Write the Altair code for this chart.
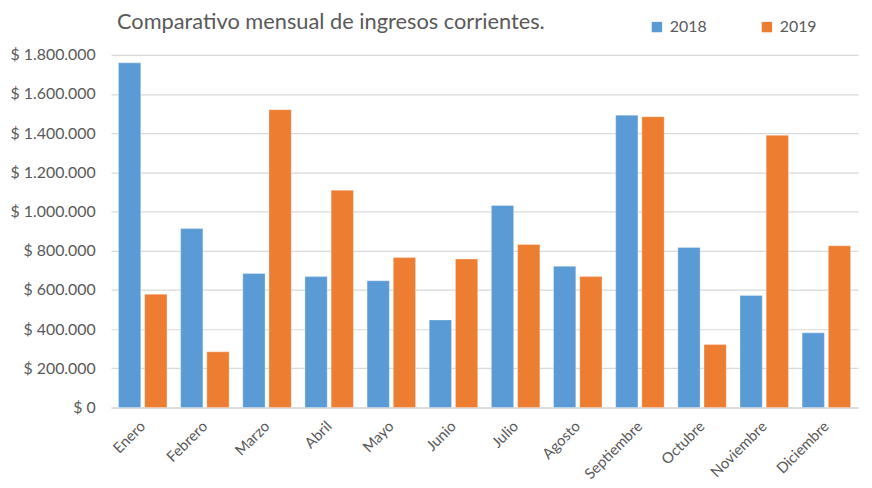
import altair as alt
import pandas as pd

months = ["Enero", "Febrero", "Marzo", "Abril", "Mayo", "Junio", "Julio",
          "Agosto", "Septiembre", "Octubre", "Noviembre", "Diciembre"]
years = ["2018", "2019"]
v2018 = [1759000, 913000, 684000, 668000, 647000, 447000, 1031000, 721000,
         1492000, 817000, 572000, 381000]
v2019 = [578000, 284000, 1520000, 1109000, 765000, 758000, 832000, 668000,
         1484000, 321000, 1389000, 825000]
y_ticks = [0, 200000, 400000, 600000, 800000, 1000000, 1200000, 1400000,
           1600000, 1800000]
colors = ["#5B9BD5", "#ED7D31"]

rows = []
for m, a, b in zip(months, v2018, v2019):
    rows.append({"mes": m, "anio": years[0], "valor": a})
    rows.append({"mes": m, "anio": years[1], "valor": b})
df = pd.DataFrame(rows)

FONT = "Lato"
GRAY = "#595959"

label_expr = ("'$ ' + replace(replace(format(datum.value, ','), ',', '.'), ',', '.')")

chart = alt.Chart(df).mark_bar(stroke="white", strokeWidth=0.6, strokeOpacity=0.5).encode(
    x=alt.X("mes:N", sort=months,
            scale=alt.Scale(paddingInner=0.22, paddingOuter=0.12),
            axis=alt.Axis(title=None, labelAngle=-45, labelAlign="right",
                          labelBaseline="middle", labelPadding=16,
                          ticks=False, domainColor="#d9d9d9", domainWidth=1.5,
                          labelFont=FONT, labelFontSize=15, labelColor=GRAY,
                          grid=False)),
    xOffset=alt.XOffset("anio:N", scale=alt.Scale(paddingInner=0.15)),
    y=alt.Y("valor:Q", scale=alt.Scale(domain=[0, 1800000], nice=False),
            axis=alt.Axis(title=None, values=y_ticks, labelExpr=label_expr,
                          ticks=False, domain=False, labelPadding=16,
                          gridColor="#d9d9d9", gridWidth=1.2,
                          labelFont=FONT, labelFontSize=16, labelColor=GRAY,
                          minExtent=100, maxExtent=100)),
    color=alt.Color("anio:N", scale=alt.Scale(domain=years, range=colors),
                    legend=alt.Legend(title=None, orient="none", legendX=543,
                                      legendY=-36, direction="horizontal",
                                      symbolType="square", symbolSize=110,
                                      symbolStrokeWidth=0,
                                      labelFont=FONT, labelFontSize=16,
                                      labelColor=GRAY, columnPadding=52,
                                      labelOffset=5)),
).properties(
    width=754,
    height=356,
    title=alt.TitleParams("Comparativo mensual de ingresos corrientes.",
                          anchor="start", frame="group", font=FONT, fontSize=22,
                          fontWeight="normal", color=GRAY, dx=6, offset=-15),
    autosize=alt.AutoSizeParams(type="none"),
    padding={"left": 104, "top": 45, "right": 6, "bottom": 79},
).configure_view(stroke=None)

chart.save("out.html", embed_options={"renderer": "svg", "actions": False})
